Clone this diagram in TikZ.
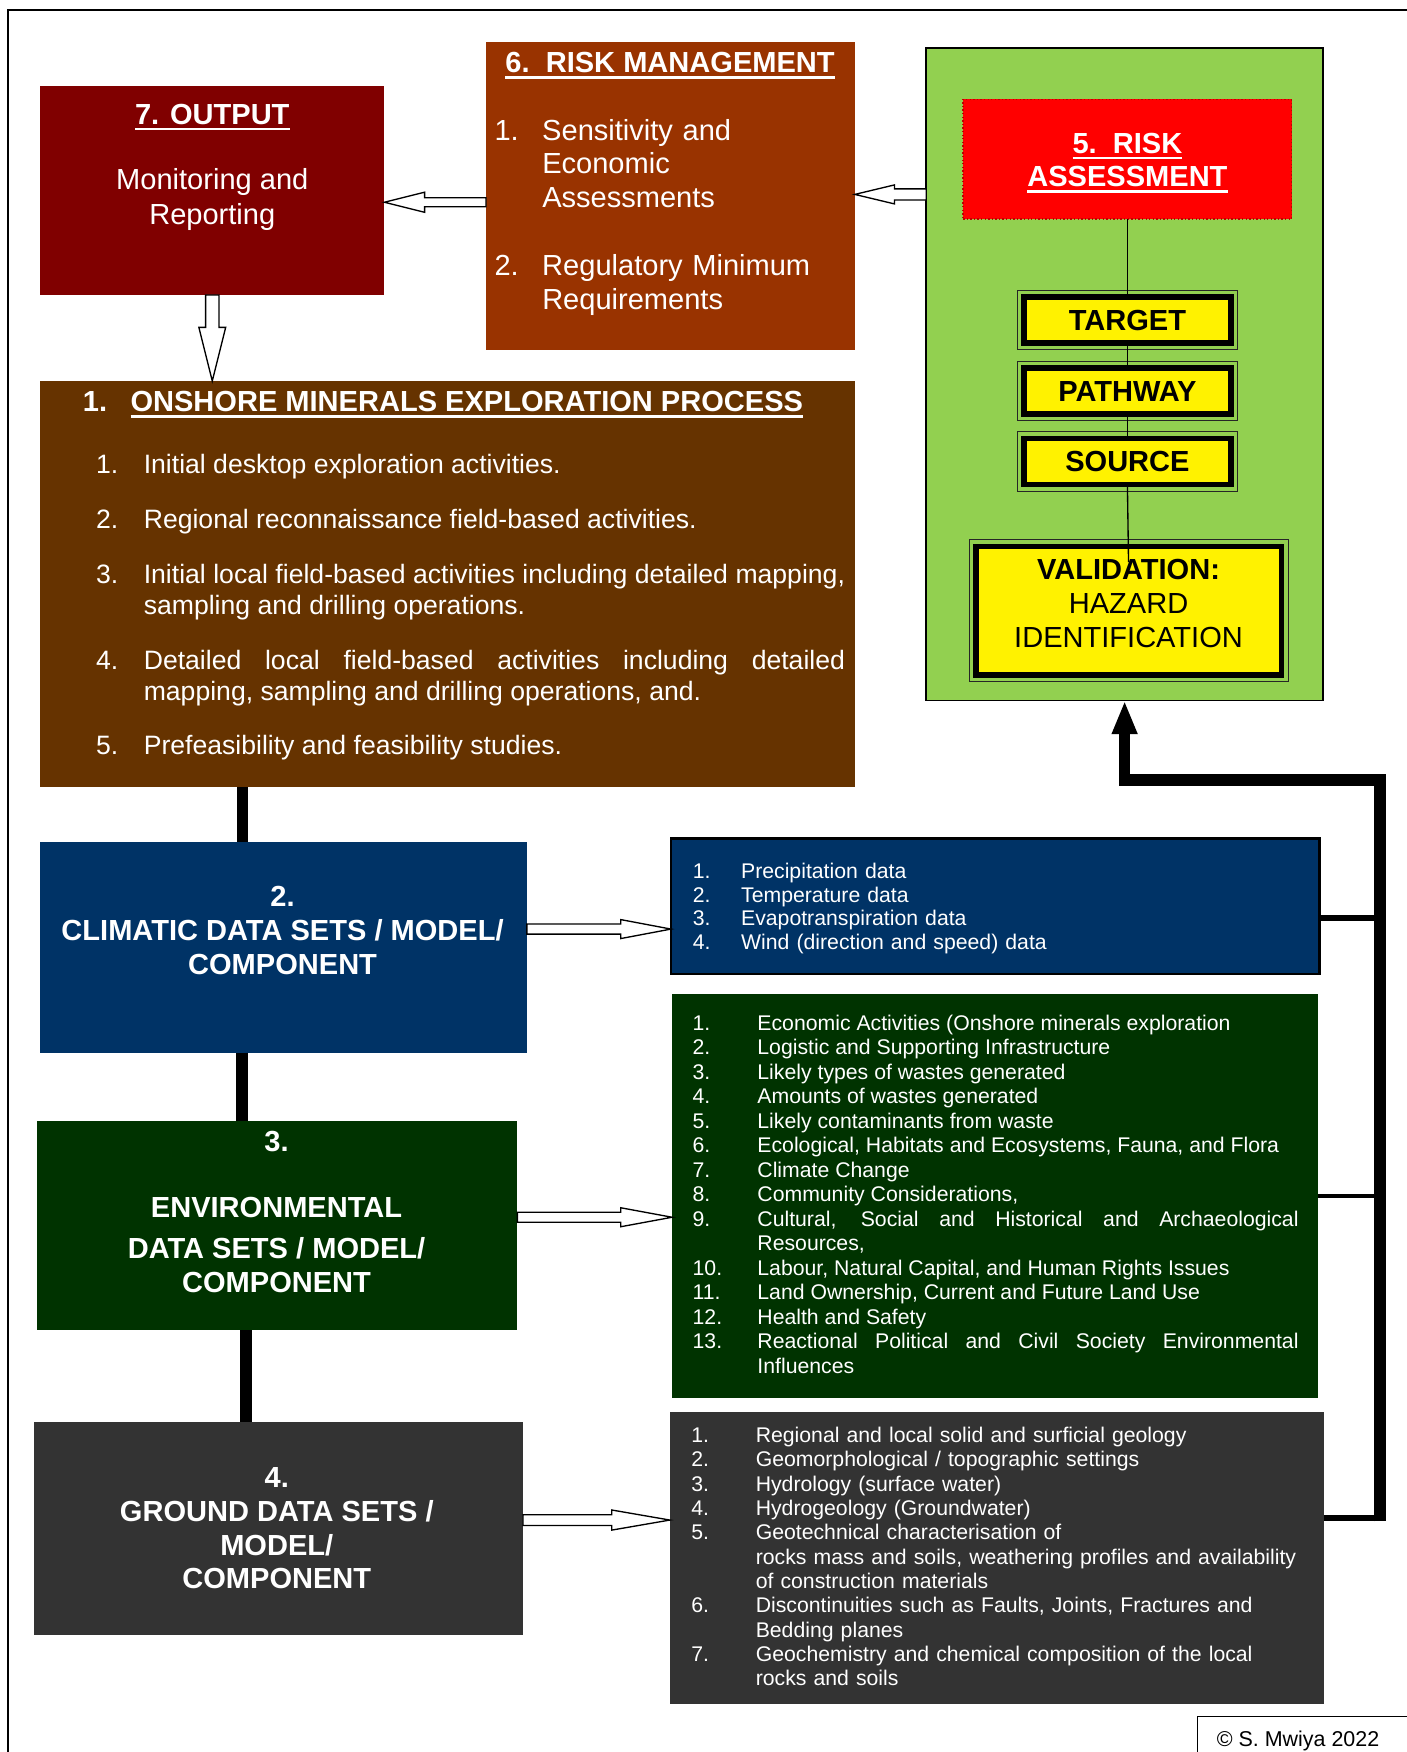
\documentclass[tikz,border=0pt]{standalone}
\usepackage{fontspec}
\setmainfont{Liberation Sans}
\usetikzlibrary{arrows.meta,calc,fit}
\definecolor{cOut}{HTML}{800000}
\definecolor{cRM}{HTML}{993300}
\definecolor{cOn}{HTML}{663300}
\definecolor{cCl}{HTML}{003366}
\definecolor{cEn}{HTML}{003300}
\definecolor{cGr}{HTML}{333333}
\definecolor{cGreen}{HTML}{92D050}
\definecolor{cRedB}{HTML}{C00000}
\newsavebox\ulbox
\newcommand\myul[1]{\leavevmode\sbox\ulbox{#1}\rlap{\rule[-2.8pt]{\wd\ulbox}{1.1pt}}\usebox\ulbox}
\newcommand\myitem[3]{\noindent\hangindent=#1\hangafter=1\makebox[#1][l]{#2}#3\par}
\newcommand\blockarrow[5]{%
  \coordinate (hbase) at ($(#2)!#5!(#1)$);
  \draw[hollow] ($(#1)!#3!90:(#2)$) -- ($(hbase)!#3!90:(#2)$) -- ($(hbase)!#4!90:(#2)$) -- (#2)
     -- ($(hbase)!#4!-90:(#2)$) -- ($(hbase)!#3!-90:(#2)$) -- ($(#1)!#3!-90:(#2)$) -- cycle;}
\begin{document}
\begin{tikzpicture}[x=0.5pt,y=-0.5pt,
  panel/.style={rectangle, inner sep=0pt, outer sep=0pt},
  wt/.style={text=white, inner sep=0pt, outer sep=0pt},
  ybox/.style={rectangle, draw=black, line width=2.5pt, fill=yellow, inner sep=0pt, outer sep=0pt,
     minimum width=92.5pt, minimum height=20.5pt, text height=9.3pt, text depth=0pt,
     font=\fontsize{13}{15}\selectfont\bfseries, text=black},
  yframe/.style={draw=black!85, line width=0.5pt},
  thinline/.style={draw=black, line width=0.6pt},
  vconn/.style={draw=black, line width=5pt},
  hollow/.style={draw=black, fill=white, line width=0.6pt, line join=miter}]
\useasboundingbox (0,0) rectangle (1259,1568);
% page frame
\draw[line width=1pt] (7,1568) -- (7,9) -- (1259,9);

% panels
\node[panel, fill=cOut, fit={(36,77)(344,264)}] (output) {};
\node[panel, fill=cRM, fit={(435,38)(765,313)}] (riskman) {};
\node[panel, fill=cGreen, draw=black, line width=0.75pt, fit={(829,43)(1184,627)}] (assess) {};
\node[panel, fill=red, draw=cRedB, densely dotted, line width=0.6pt, fit={(862,89)(1156,196)}] (riskhead) {};
\node[panel, fill=cOn, fit={(36,341)(765,704)}] (onshore) {};
\node[panel, fill=cCl, fit={(36,753.5)(471.5,942)}] (climatic) {};
\node[panel, fill=cEn, fit={(33.5,1003)(463,1190.5)}] (environ) {};
\node[panel, fill=cGr, fit={(30.5,1272.5)(468,1463)}] (ground) {};
\node[panel, fill=cCl, draw=black, line width=1pt, fit={(600.5,750.5)(1181,872)}] (clist) {};
\node[panel, fill=cEn, fit={(601.5,890)(1180,1251)}] (elist) {};
\node[panel, fill=cGr, fit={(599.5,1263.5)(1184.5,1525)}] (glist) {};

% yellow boxes
\node[ybox] (target) at (1009,286.5) {TARGET};
\node[ybox] (pathway) at (1009,350) {PATHWAY};
\node[ybox] (source) at (1009,413) {SOURCE};
\node[ybox, minimum width=136.75pt, minimum height=57.5pt] (valid) at (1010.25,546.5) {};
\foreach \n in {target,pathway,source,valid}
  \draw[yframe] ([shift={(-3pt,3pt)}]\n.north west) rectangle ([shift={(3pt,-3pt)}]\n.south east);
\node[anchor=base, align=center, inner sep=0pt, font=\fontsize{13}{15.1}\selectfont] (validT) at (1010,579.4)
  {\textbf{VALIDATION:}\\HAZARD\\IDENTIFICATION};

% chain lines inside the assessment panel
\coordinate (valin) at (1010,503);
\draw[thinline] (riskhead.south) -- (target.north);
\draw[thinline] (target.south) -- (pathway.north);
\draw[thinline] (pathway.south) -- (source.north);
\draw[thinline] (source.south) -- (valin);

% texts
\node[wt, anchor=base, font=\fontsize{13}{15}\selectfont\bfseries] (outT) at (190,111) {\myul{7. OUTPUT}};
\node[wt, anchor=base, align=center, font=\fontsize{13}{15.65}\selectfont] (outB) at (190,201.3) {Monitoring and\\Reporting};

\node[wt, anchor=base, font=\fontsize{13}{15}\selectfont\bfseries] (rmT) at (599.7,65) {\myul{6.\ \ RISK MANAGEMENT}};
\node[wt, anchor=base west, text width=160pt, align=left, font=\fontsize{13}{15.05}\selectfont] (rmL) at (442.6,125.3)
  {\setlength{\parskip}{15.7pt}%
   \myitem{21.35pt}{1.}{Sensitivity and\newline Economic\newline Assessments}%
   \myitem{21.35pt}{2.}{Regulatory Minimum\newline Requirements}};

\node[wt, anchor=base, align=center, font=\fontsize{13}{15}\selectfont\bfseries] (rhT) at (1009,167) {\myul{5.\ \ RISK}\\\myul{ASSESSMENT}};

\node[wt, anchor=base west, font=\fontsize{13}{15}\selectfont\bfseries] (onT) at (74.2,368.4)
  {\makebox[21.3pt][l]{1.}\myul{ONSHORE MINERALS EXPLORATION PROCESS}};
\node[wt, anchor=base west, text width=335.15pt, align=justify, font=\fontsize{11.9}{13.85}\selectfont] (onL) at (86,423.5)
  {\setlength{\parskip}{10.75pt}%
   \myitem{21.35pt}{1.}{Initial desktop exploration activities.}%
   \myitem{21.35pt}{2.}{Regional reconnaissance field-based activities.}%
   \myitem{21.35pt}{3.}{Initial local field-based activities including detailed mapping,\linebreak sampling and drilling operations.}%
   \myitem{21.35pt}{4.}{Detailed local field-based activities including detailed\linebreak mapping, sampling and drilling operations, and.}%
   \myitem{21.35pt}{5.}{Prefeasibility and feasibility studies.}};

\node[wt, anchor=base, align=center, font=\fontsize{13}{15.1}\selectfont\bfseries] (clT) at (252.9,871.8)
  {2.\\CLIMATIC DATA SETS / MODEL/\\COMPONENT};
\node[wt, anchor=base, font=\fontsize{13}{15}\selectfont\bfseries] (enN) at (247.5,1030.5) {3.};
\node[wt, anchor=base, font=\fontsize{13}{15}\selectfont\bfseries] (enT) at (247.5,1089.2) {ENVIRONMENTAL};
\node[wt, anchor=base, align=center, font=\fontsize{13}{15.05}\selectfont\bfseries] (enT2) at (247.5,1156.6)
  {DATA SETS / MODEL/\\COMPONENT};
\node[wt, anchor=base, align=center, font=\fontsize{13}{15.05}\selectfont\bfseries] (grT) at (247.7,1422)
  {4.\\GROUND DATA SETS /\\MODEL/\\COMPONENT};

\node[wt, anchor=base west, text width=262pt, align=left, font=\fontsize{9.5}{10.7}\selectfont] (clL) at (620,785.9)
  {\myitem{21.65pt}{1.}{Precipitation data}%
   \myitem{21.65pt}{2.}{Temperature data}%
   \myitem{21.65pt}{3.}{Evapotranspiration data}%
   \myitem{21.65pt}{4.}{Wind (direction and speed) data}};

\node[wt, anchor=base west, text width=271.15pt, align=justify, font=\fontsize{9.5}{10.95}\selectfont] (enL) at (619.9,922.2)
  {\myitem{29pt}{1.}{Economic Activities (Onshore minerals exploration}%
   \myitem{29pt}{2.}{Logistic and Supporting Infrastructure}%
   \myitem{29pt}{3.}{Likely types of wastes generated}%
   \myitem{29pt}{4.}{Amounts of wastes generated}%
   \myitem{29pt}{5.}{Likely contaminants from waste}%
   \myitem{29pt}{6.}{Ecological, Habitats and Ecosystems, Fauna, and Flora}%
   \myitem{29pt}{7.}{Climate Change}%
   \myitem{29pt}{8.}{Community Considerations,}%
   \myitem{29pt}{9.}{Cultural, Social and Historical and Archaeological\linebreak Resources,}%
   \myitem{29pt}{10.}{Labour, Natural Capital, and Human Rights Issues}%
   \myitem{29pt}{11.}{Land Ownership, Current and Future Land Use}%
   \myitem{29pt}{12.}{Health and Safety}%
   \myitem{29pt}{13.}{Reactional Political and Civil Society Environmental\linebreak Influences}};

\node[wt, anchor=base west, text width=282pt, align=left, font=\fontsize{9.5}{10.9}\selectfont] (grL) at (618.8,1290.9)
  {\myitem{28.8pt}{1.}{Regional and local solid and surficial geology}%
   \myitem{28.8pt}{2.}{Geomorphological / topographic settings}%
   \myitem{28.8pt}{3.}{Hydrology (surface water)}%
   \myitem{28.8pt}{4.}{Hydrogeology (Groundwater)}%
   \myitem{28.8pt}{5.}{Geotechnical characterisation of\newline rocks mass and soils, weathering profiles and availability\newline of construction materials}%
   \myitem{28.8pt}{6.}{Discontinuities such as Faults, Joints, Fractures and\newline Bedding planes}%
   \myitem{28.8pt}{7.}{Geochemistry and chemical composition of the local\newline rocks and soils}};

% copyright
\draw[line width=0.6pt] (1071.5,1568) -- (1071.5,1536.5) -- (1259,1536.5);
\node[anchor=base west, inner sep=0pt, font=\fontsize{9.6}{11}\selectfont] (copy) at (1088.6,1563) {© S. Mwiya 2022};

% thick vertical connectors
\coordinate (v1) at (216.7,0);
\coordinate (v2) at (216.6,0);
\coordinate (v3) at (220.2,0);
\draw[vconn] (onshore.south -| v1) -- (climatic.north -| v1);
\draw[vconn] (climatic.south -| v2) -- (environ.north -| v2);
\draw[vconn] (environ.south -| v3) -- (ground.north -| v3);

% feedback connector
\coordinate (rb) at (1235,1361.5);
\coordinate (rt) at (1235,697.75);
\coordinate (cs) at (1235,821.7);
\coordinate (es) at (1235,1070.5);
\coordinate (gs) at (1237,1358.75);
\draw[line width=5.25pt, line join=miter, -{Triangle[length=15pt,width=10.5pt]}] (rb) -- (rt) -| (assess.south);
\draw[line width=3pt] (clist.east |- cs) -- (cs);
\draw[line width=2pt] (elist.east |- es) -- (es);
\draw[line width=2.75pt] (glist.east |- gs) -- (gs);

% hollow block arrows
\coordinate (y67) at (0,181);
\blockarrow{riskman.west |- y67}{output.east |- y67}{2pt}{4.5pt}{18pt}
\coordinate (y56) at (0,174);
\blockarrow{assess.west |- y56}{riskman.east |- y56}{2.5pt}{4.25pt}{17.75pt}
\blockarrow{output.south}{onshore.north -| output.south}{3pt}{6pt}{24pt}
\coordinate (yc) at (0,831.5);
\blockarrow{climatic.east |- yc}{clist.west |- yc}{2.25pt}{4.25pt}{22.5pt}
\coordinate (ye) at (0,1089.4);
\blockarrow{environ.east |- ye}{elist.west |- ye}{2.25pt}{4.25pt}{23pt}
\coordinate (yg) at (0,1360.4);
\blockarrow{ground.east |- yg}{glist.west |- yg}{2.4pt}{4.5pt}{26pt}
\end{tikzpicture}
\end{document}
